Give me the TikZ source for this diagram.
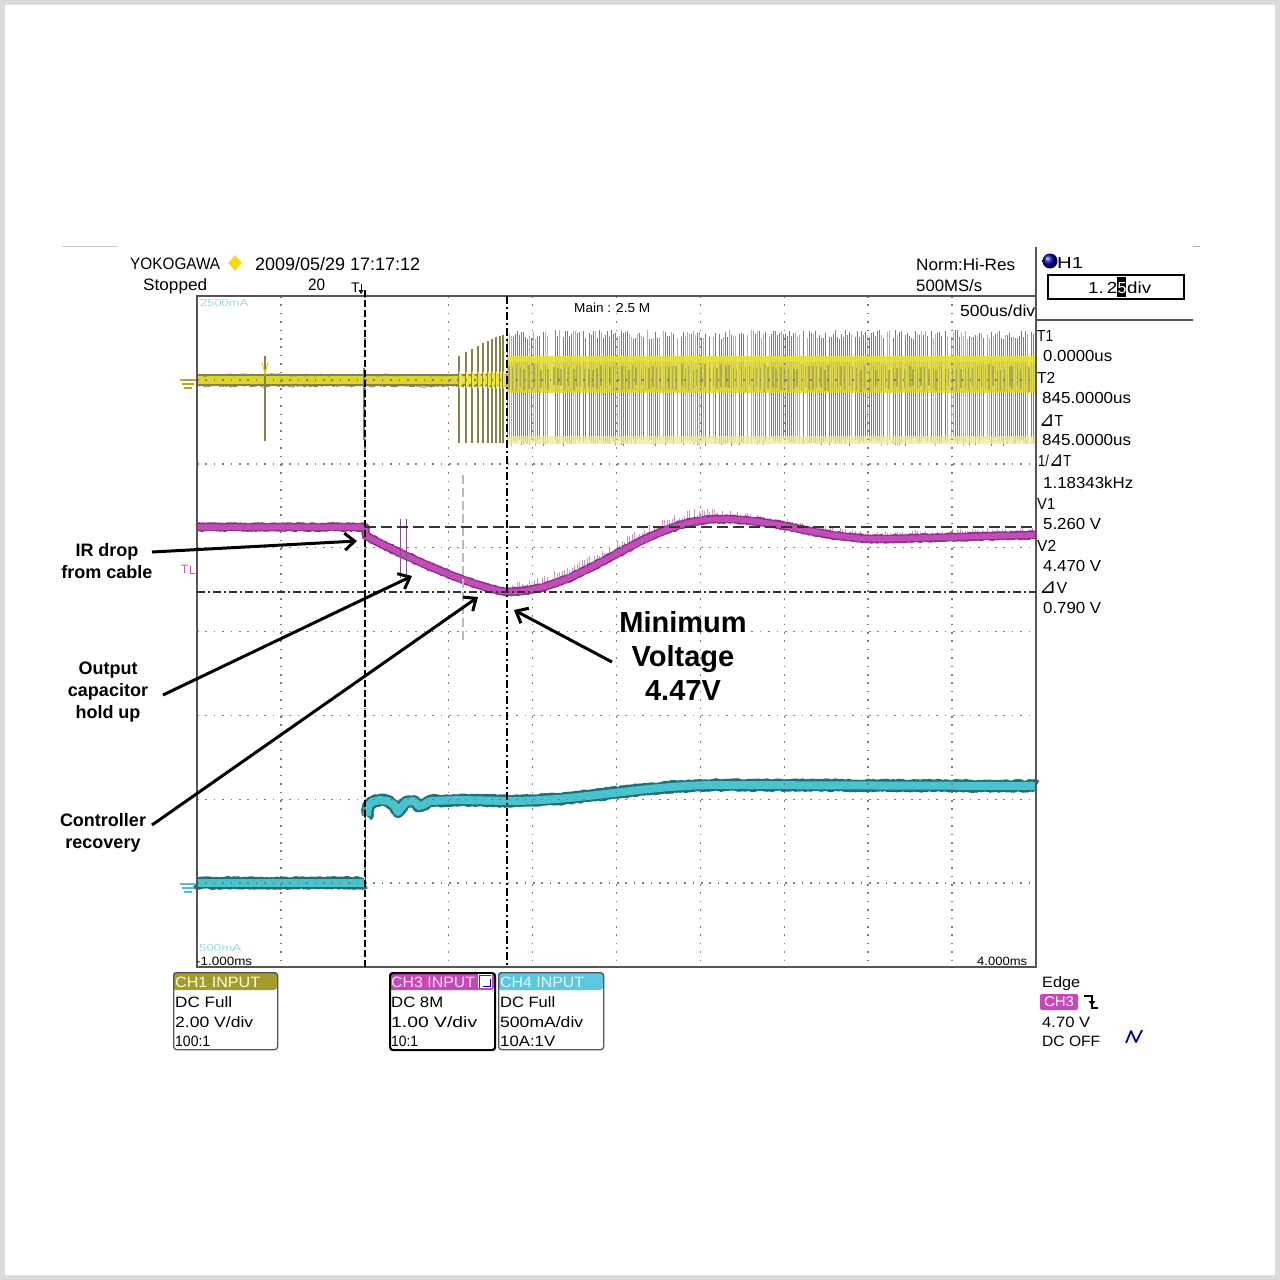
\documentclass[tikz,border=0pt]{standalone}
\usepackage{fontspec}
\setmainfont{Liberation Sans}
\newfontfamily\trifont{DejaVu Sans}
\usetikzlibrary{arrows.meta,shapes.geometric,decorations.pathmorphing}
\newcommand\fw[2]{\resizebox{#1pt}{\height}{#2}}
\newcommand\fs[1]{\fontsize{#1}{#1}\selectfont}
\newcommand\tri{{\trifont\scalebox{1.3}{⊿}}}
\definecolor{yyel}{HTML}{DDD52A}
\definecolor{ybright}{HTML}{ECE43A}
\definecolor{yolive}{HTML}{86824A}
\definecolor{ykhaki}{HTML}{B9B47A}
\definecolor{ypale}{HTML}{EEEA9A}
\definecolor{mag}{HTML}{C24DB8}
\definecolor{magdark}{HTML}{8E3487}
\definecolor{maglight}{HTML}{D98ED2}
\definecolor{cyanc}{HTML}{4BC3CF}
\definecolor{cyandark}{HTML}{1E6F78}
\definecolor{ch1col}{HTML}{A39B2E}
\definecolor{ch3col}{HTML}{C848B8}
\definecolor{ch4col}{HTML}{5BC8E0}
\definecolor{framec}{HTML}{555555}
\definecolor{gridc}{HTML}{7C7C7C}
\definecolor{outerc}{HTML}{DADADA}
\definecolor{palecyan}{HTML}{9FD8E0}
\definecolor{ydiam}{HTML}{F0DC10}
\tikzset{
  lab/.style={anchor=base west, inner sep=0pt, text=black},
  ann/.style={align=center, inner sep=0pt, font=\bfseries\fontsize{18}{22}\selectfont},
  annbig/.style={align=center, inner sep=0pt, font=\bfseries\fontsize{29}{34}\selectfont},
  arr/.style={-{Straight Barb[length=10pt,width=17pt]}, line width=3pt, black},
  gridline/.style={gridc, line width=1.5pt, dash pattern=on 1.5pt off 6.9pt},
  chbox/.style={draw=framec, line width=1.3pt, rounded corners=3pt, minimum width=104pt, minimum height=77pt, anchor=north west, inner sep=0pt},
  dashdot/.style={dash pattern=on 8pt off 3pt on 2pt off 3pt},
  noisy/.style={line join=round, decorate, decoration={random steps,segment length=1.5pt,amplitude=#1}}
}
\begin{document}
\begin{tikzpicture}[x=1pt,y=-1pt]
\useasboundingbox (0,0) rectangle (1280,1280);
\fill[white] (0,0) rectangle (1280,1280);
\draw[outerc, line width=5pt] (2.5,2.5) rectangle (1277.5,1277.5);
\draw[gray!40, line width=1pt] (62,246) -- (118,246);
\draw[gray!60, line width=1pt] (1193,246) -- (1200,246);

% ---------------- yellow trace (CH1)
\draw[yolive, line width=12pt] (197,380) -- (507,380);
\draw[yyel, line width=8pt] (197,380) -- (507,380);
\draw[yolive, line width=0.8pt, noisy=1.2pt] (197,375) -- (507,375);
\draw[yolive, line width=0.8pt, noisy=1.2pt] (197,386) -- (507,386);
\draw[yolive, line width=1.4pt] (265,356) -- (265,441);
\draw[yyel, line width=1pt] (262,362) -- (265,374) -- (268,362);
\draw[yolive, line width=1.2pt] (364,368) -- (364,440);
\foreach \xx/\tp in {459/356,466/352,472/349,478/346,483/343,488/341,492/339,496/337,500/336,503/335}{
  \draw[yolive, line width=1.1pt] (\xx,\tp) -- (\xx,443);
  \fill[ybright] (\xx,371) -- ({\xx+6},380) -- (\xx,389) -- cycle;
}
\pgfmathsetseed{7}
\foreach \i in {0,...,264}{
  \pgfmathsetmacro\xx{507.5+2*\i}
  \pgfmathsetmacro\ytop{330+9*rnd}
  \pgfmathsetmacro\ybot{438+8*rnd}
  \pgfmathsetmacro\rcol{rnd}
  \ifdim\rcol pt<0.6pt
    \draw[yolive, line width=1.25pt] (\xx,\ytop) -- (\xx,\ybot);
  \else\ifdim\rcol pt<0.88pt
    \draw[ykhaki, line width=1.25pt] (\xx,\ytop) -- (\xx,\ybot);
  \fi\fi
}
\fill[yyel, opacity=.8] (507,356) rectangle (1036,393);
\fill[ybright, opacity=.7] (507,356) rectangle (1036,362);
\foreach \i in {0,...,130}{
  \pgfmathsetmacro\xx{508+4*\i+2*rnd}
  \pgfmathsetmacro\ytop{364+6*rnd}
  \pgfmathsetmacro\ybot{385+7*rnd}
  \draw[yolive, opacity=.5, line width=1.4pt] (\xx,\ytop) -- (\xx,\ybot);
}
\fill[ypale, opacity=.75] (507,436) rectangle (1036,444);

% ---------------- magenta trace (CH3)
\def\magpath{(197,527) -- (365,527) -- (366,535) -- plot[domain=366:506,samples=30] (\x,{592-56*((507-\x)/141)^1.3}) -- plot[domain=507:720,samples=40] (\x,{555.5+36.5*cos((\x-507)/213*180)}) -- plot[domain=720:880,samples=30] (\x,{529-10*cos((\x-720)/160*180)}) -- (1036,535)}
\foreach \xx in {512,514.5,...,718}{
  \pgfmathsetmacro\hyc{555.5+36.5*cos((\xx-507)/213*180)}
  \pgfmathsetmacro\hya{\hyc-3}
  \pgfmathsetmacro\hyb{\hyc-4-9*rnd}
  \draw[maglight, line width=0.9pt] (\xx,\hya) -- (\xx,\hyb);
}
\foreach \xx in {720,722.5,...,1034}{
  \pgfmathsetmacro\hyc{\xx<880 ? 529-10*cos((\xx-720)/160*180) : 539-4*(\xx-880)/156}
  \pgfmathsetmacro\hya{\hyc-3}
  \pgfmathsetmacro\hyb{\hyc-3-5*rnd}
  \draw[maglight, line width=0.9pt] (\xx,\hya) -- (\xx,\hyb);
}
\draw[magdark, line width=8.5pt, noisy=0.8pt] \magpath;
\draw[mag, line width=5.5pt, line join=round] \magpath;
\draw[magdark!60!gray, line width=1pt] (400,519) -- (400,578);
\draw[magdark!60!gray, line width=1pt] (406,519) -- (406,578);
\draw[gray!55, line width=2pt, dash pattern=on 9pt off 4pt] (463,475) -- (463,642);

% ---------------- cyan trace (CH4)
\def\cyanL{(197,883) -- (365,883)}
\def\cyanR{(367,816) -- (368,806) -- (372,802) -- (380,800) -- (388,801) -- (394,805) -- (398,812) -- (401,808) -- (406,802) -- (414,801) -- (419,806) -- (423,805) -- (430,801) -- (460,800) -- (507,801) -- plot[domain=508:720,samples=30] (\x,{801-8*(1-cos((\x-507)/213*180))}) -- (1036,786)}
\draw[cyandark, line width=1.3pt] (365.5,883) -- (365.5,806);
\draw[cyandark, line width=12pt, noisy=1pt] \cyanL;
\draw[cyanc, line width=8pt] \cyanL;
\draw[cyandark, line width=12pt, noisy=1pt] \cyanR;
\draw[cyanc, line width=8pt, line join=round] \cyanR;

% ---------------- grid and frame
\foreach \k in {1,...,9}{
  \draw[gridline] ({197+83.9*\k},296) -- ({197+83.9*\k},967);
}
\foreach \k in {1,...,7}{
  \draw[gridline] (197,{296+83.875*\k}) -- (1036,{296+83.875*\k});
}
\draw[framec, line width=1.4pt] (197,296) rectangle (1036,967);
\draw[framec, line width=1.4pt] (1036,247) -- (1036,296);
\draw[framec, line width=1.4pt] (1036,320) -- (1193,320);

% ---------------- cursors
\draw[black, line width=2.2pt, dash pattern=on 7pt off 3pt] (365,290) -- (365,967);
\draw[black, line width=2.2pt, dashdot] (507,296) -- (507,967);
\draw[black!80, line width=2pt, dash pattern=on 11pt off 5pt] (365,527) -- (1036,527);
\draw[black!80, line width=2pt, dashdot] (197,592) -- (1036,592);

% ---------------- markers at left
\draw[yyel!80!black, line width=1.2pt] (180,380) -- (196,380) (182,384) -- (194,384) (184,388) -- (192,388);
\draw[cyanc, line width=1.2pt] (180,884) -- (196,884) (182,888) -- (194,888) (184,892) -- (192,892);
\node[lab, text=mag] (trlev) at (181,573) {\fs{12}T};
\draw[mag, line width=0.8pt] (190,566) -- (190,573) -- (195,573);

% ---------------- header texts
\node[lab] (yoko) at (130,269) {\fs{16.5}\fw{90}{YOKOGAWA}};
\node[diamond, fill=ydiam, minimum width=14pt, minimum height=16pt, inner sep=0pt] (dia) at (235,263) {};
\node[lab] (date) at (255,270) {\fs{18}\fw{165}{2009/05/29 17:17:12}};
\node[lab] (stop) at (143,290) {\fs{16.5}\fw{64}{Stopped}};
\node[lab] (cnt) at (308,290) {\fs{16.5}\fw{17}{20}};
\node[lab] (tmark) at (351,292) {\fs{14}T};
\draw[black, line width=1pt] (361,284) -- (361,292);
\fill[black] (358.5,290) -- (363.5,290) -- (361,294) -- cycle;
\node[lab, text=palecyan] (ma1) at (200,306.5) {\fs{10}\fw{48}{2500mA}};
\node[lab] (mainm) at (574,312) {\fs{13}\fw{76}{Main : 2.5 M}};
\node[lab] (tdiv) at (960,316) {\fs{16}\fw{75}{500us/div}};
\node[lab] (norm) at (916,270) {\fs{16.5}\fw{99}{Norm:Hi-Res}};
\node[lab] (rate) at (916,291) {\fs{16.5}\fw{66}{500MS/s}};
\shade[ball color=blue!65!black] (1050,261) circle (7.5);
\node[lab] (h1) at (1057,268) {\fs{16}\fw{26}{H1}};
\draw[black, line width=2pt] (1048,275) rectangle (1184,299);
\node[lab] (h1v) at (1088,293) {\fs{16}\fw{29}{1.\,2}};
\fill[black] (1117,277) rectangle (1126,297);
\node[lab, text=white] (h1c) at (1117.5,293) {\fs{16}5};
\node[lab] (h1d) at (1127,293) {\fs{16}\fw{24}{div}};

% ---------------- right panel values
\node[lab] (t1l) at (1037,341) {\fs{16}\fw{16}{T1}};
\node[lab] (t1v) at (1043,361) {\fs{16}\fw{69}{0.0000us}};
\node[lab] (t2l) at (1037,383) {\fs{16}\fw{18}{T2}};
\node[lab] (t2v) at (1042,403) {\fs{16}\fw{89}{845.0000us}};
\node[lab] (dtl) at (1039,426) {\fs{16}\fw{24}{\tri T}};
\node[lab] (dtv) at (1042,445) {\fs{16}\fw{89}{845.0000us}};
\node[lab] (idl) at (1038,466) {\fs{16}\fw{33}{1/\tri T}};
\node[lab] (idv) at (1043,488) {\fs{16}\fw{90}{1.18343kHz}};
\node[lab] (v1l) at (1037,509) {\fs{16}\fw{18}{V1}};
\node[lab] (v1v) at (1043,529) {\fs{16}\fw{58}{5.260 V}};
\node[lab] (v2l) at (1037,551) {\fs{16}\fw{19}{V2}};
\node[lab] (v2v) at (1043,571) {\fs{16}\fw{58}{4.470 V}};
\node[lab] (dvl) at (1039,593) {\fs{16}\fw{28}{\tri V}};
\node[lab] (dvv) at (1043,613) {\fs{16}\fw{58}{0.790 V}};

% ---------------- time axis labels
\node[lab, text=palecyan] (ma2) at (199,951.5) {\fs{10}\fw{42}{500mA}};
\node[lab] (tl) at (196,965.5) {\fs{12}\fw{56}{-1.000ms}};
\node[lab] (tr) at (977,965.5) {\fs{12}\fw{50}{4.000ms}};

% ---------------- channel boxes
\fill[ch1col, rounded corners=3pt] (173,972) rectangle (277,990);
\node[chbox] (ch1) at (173,972) {};
\node[lab, text=yellow!15] (ch1h) at (175,987) {\fs{15}\fw{85}{CH1 INPUT}};
\node[lab] (ch1a) at (175,1007) {\fs{15}\fw{57}{DC Full}};
\node[lab] (ch1b) at (175,1027) {\fs{15}\fw{78}{2.00 V/div}};
\node[lab] (ch1c) at (175,1046) {\fs{15}\fw{35}{100:1}};

\fill[ch3col, rounded corners=3pt] (389,972) rectangle (494,990);
\node[chbox, draw=black, line width=2.2pt, minimum width=105pt] (ch3) at (389,972) {};
\node[lab, text=magenta!10] (ch3h) at (391,987) {\fs{15}\fw{84}{CH3 INPUT}};
\fill[white] (478,974) rectangle (492,988);
\draw[red!80!black, line width=1.5pt] (479.5,988) -- (479.5,975.5) -- (491,975.5);
\draw[blue!70!black, line width=1.5pt] (483,986.5) -- (490.5,986.5) -- (490.5,979);
\node[lab] (ch3a) at (391,1007) {\fs{15}\fw{52}{DC 8M}};
\node[lab] (ch3b) at (391,1027) {\fs{15}\fw{86}{1.00 V/div}};
\node[lab] (ch3c) at (391,1046) {\fs{15}\fw{27}{10:1}};

\fill[ch4col, rounded corners=3pt] (498,972) rectangle (603,990);
\node[chbox, minimum width=105pt] (ch4) at (498,972) {};
\node[lab, text=cyan!10] (ch4h) at (500,987) {\fs{15}\fw{84}{CH4 INPUT}};
\node[lab] (ch4a) at (500,1007) {\fs{15}\fw{55}{DC Full}};
\node[lab] (ch4b) at (500,1027) {\fs{15}\fw{83}{500mA/div}};
\node[lab] (ch4c) at (500,1046) {\fs{15}\fw{55}{10A:1V}};

% ---------------- trigger info
\node[lab] (edge) at (1042,987) {\fs{15}\fw{38}{Edge}};
\node[fill=ch3col, rounded corners=2pt, minimum width=38pt, minimum height=16pt, inner sep=0pt, text=white] (trgch) at (1059,1002) {\fs{14}\fw{30}{CH3}};
\draw[black, line width=1.4pt] (1084,996) -- (1092,996) -- (1092,1008) -- (1098,1008);
\fill[black] (1088.5,1001) -- (1095.5,1001) -- (1092,1005.5) -- cycle;
\node[lab] (tlev) at (1042,1027) {\fs{15}\fw{48}{4.70 V}};
\node[lab] (dcoff) at (1042,1046) {\fs{15}\fw{58}{DC OFF}};
\draw[blue!60!black, line width=1.8pt, line join=round] (1126,1043) -- (1131,1031) -- (1136,1042) -- (1142,1030);

% ---------------- annotations
\node[ann] (ir) at (107,561) {IR drop\\from cable};
\node[ann] (cap) at (108,692) {Output\\capacitor\\hold up};
\node[ann] (ctl) at (103,833) {Controller\\recovery};
\node[annbig] (minv) at (683,656) {Minimum\\Voltage\\4.47V};
\coordinate (irS) at (152,552);
\coordinate (irE) at (357,541);
\coordinate (capS) at (163,695);
\coordinate (capE) at (412,576);
\coordinate (ctlS) at (152,825);
\coordinate (ctlE) at (478,597);
\coordinate (minS) at (612,662);
\coordinate (minE) at (514,610);
\draw[arr] (irS) -- (irE);
\draw[arr] (capS) -- (capE);
\draw[arr] (ctlS) -- (ctlE);
\draw[arr] (minS) -- (minE);
\end{tikzpicture}
\end{document}
